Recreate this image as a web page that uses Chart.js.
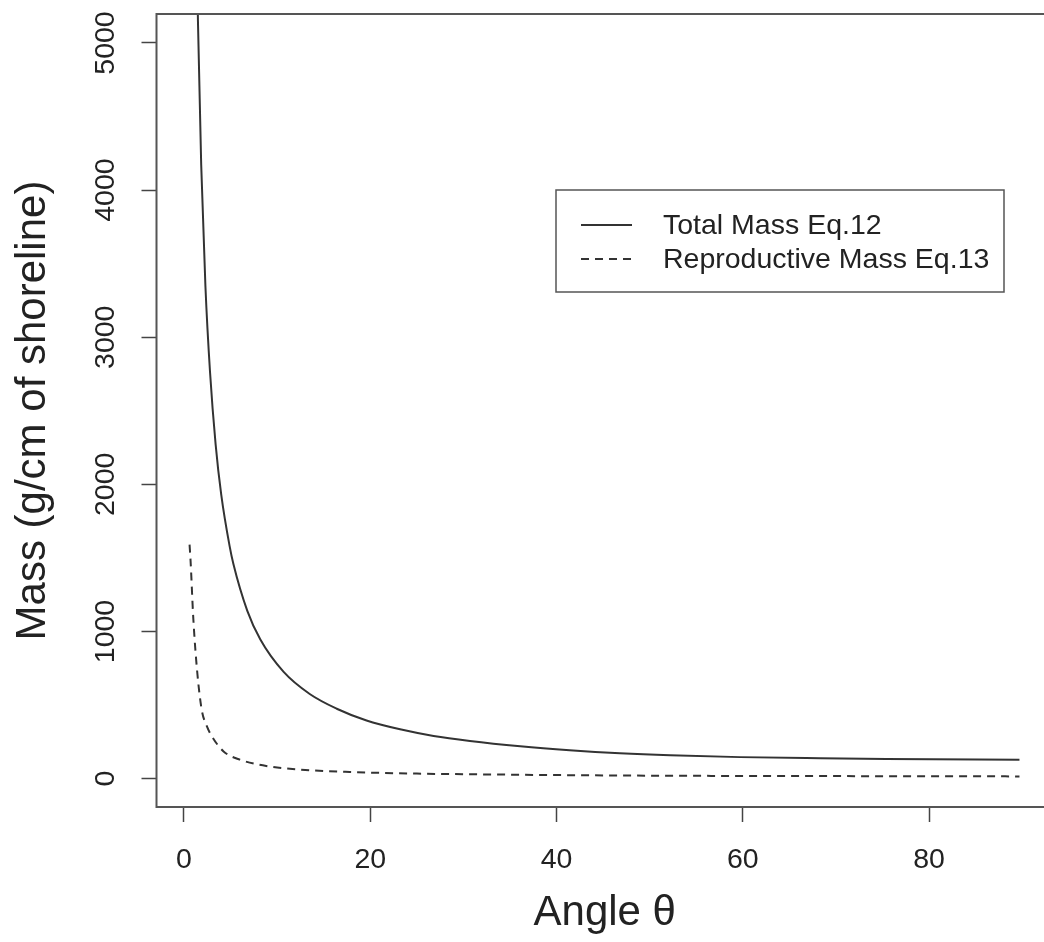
<!DOCTYPE html>
<html>
<head>
<meta charset="utf-8">
<script src="https://cdn.jsdelivr.net/npm/chart.js@4/dist/chart.umd.min.js"></script>
<style>
  html, body { margin: 0; padding: 0; background: #fff; overflow: hidden; }
  #wrap { position: absolute; left: 0; top: 0; }
</style>
</head>
<body>
<div id="wrap"><canvas id="massChart" width="1060" height="942"></canvas></div>
<script>
// angle (degrees) and mass (g/cm of shoreline) for each curve
let totalAngle = [1.2, 1.5, 1.85, 2.3, 2.8, 3.4, 4.0, 4.9, 5.3, 6.8, 8.2, 10.7, 13.5, 16.4, 19.6, 23.2, 26.8, 30.7, 36.1, 41.4, 46.8, 52.2, 59.7, 68.3, 75.4, 89.7]
let totalMass = [6400, 5150, 4170, 3350, 2760, 2270, 1930, 1580, 1460, 1140, 945, 725, 575, 475, 395, 335, 290, 256, 220, 193, 172, 158, 146, 138, 133, 129]

let reproAngle = [0.6, 0.7, 1.0, 1.4, 1.9, 2.5, 3.0, 4.25, 6.0, 9.0, 12.5, 17.8, 25, 30, 40, 50, 60, 70, 80, 89.7]
let reproMass = [1590, 1490, 1090, 740, 470, 350, 287, 185, 129, 84, 61, 45, 34, 30, 24, 20, 18, 17, 16, 15]

let xTicks = [0, 20, 40, 60, 80]
let yTicks = [0, 1000, 2000, 3000, 4000, 5000]

let seriesNames = ['Total Mass Eq.12', 'Reproductive Mass Eq.13']

const FONT = "'Liberation Sans', Arial, Helvetica, sans-serif"
const INK = '#222'

function toPoints(xs, ys) {
  return xs.map((x, i) => ({ x: x, y: ys[i] }))
}

// fixed axis sizes, no extra room for overhanging labels
function fixWidth(w) {
  return (scale) => {
    scale.width = w
    scale.paddingTop = 0
    scale.paddingBottom = 0
  }
}
function fixHeight(h) {
  return (scale) => {
    scale.height = h
    scale.paddingLeft = 0
    scale.paddingRight = 0
  }
}

// R-style box around the plot region
const plotBox = {
  id: 'plotBox',
  afterDatasetsDraw(chart) {
    const a = chart.chartArea
    const ctx = chart.ctx
    ctx.save()
    ctx.strokeStyle = '#555'
    ctx.lineWidth = 2
    ctx.strokeRect(a.left, a.top, a.right - a.left, a.bottom - a.top)
    ctx.restore()
  }
}

// boxed legend drawn inside the plot
const boxLegend = {
  id: 'boxLegend',
  afterDraw(chart, args, opts) {
    const ctx = chart.ctx
    ctx.save()
    ctx.strokeStyle = '#555'
    ctx.lineWidth = 1.5
    ctx.strokeRect(opts.x, opts.y, opts.w, opts.h)
    ctx.font = opts.fontSize + 'px ' + FONT
    ctx.textBaseline = 'middle'
    ctx.textAlign = 'left'
    chart.data.datasets.forEach((ds, i) => {
      const rowY = opts.firstRow + i * opts.rowGap
      ctx.beginPath()
      ctx.strokeStyle = ds.borderColor
      ctx.lineWidth = ds.borderWidth
      ctx.setLineDash(ds.borderDash || [])
      ctx.moveTo(opts.x + 25, rowY)
      ctx.lineTo(opts.x + 76, rowY)
      ctx.stroke()
      ctx.setLineDash([])
      ctx.fillStyle = INK
      ctx.fillText(ds.label, opts.x + 107, rowY + 1)
    })
    ctx.restore()
  }
}

let ctx = document.getElementById('massChart').getContext('2d')

let massChart = new Chart(ctx, {
  type: 'line',
  data: {
    datasets: [{
      label: seriesNames[0],
      data: toPoints(totalAngle, totalMass),
      borderColor: '#333',
      borderWidth: 2,
      pointRadius: 0,
      cubicInterpolationMode: 'monotone',
      fill: false
    }, {
      label: seriesNames[1],
      data: toPoints(reproAngle, reproMass),
      borderColor: '#333',
      borderWidth: 2,
      borderDash: [8, 6],
      pointRadius: 0,
      cubicInterpolationMode: 'monotone',
      fill: false
    }]
  },
  options: {
    responsive: false,
    animation: false,
    devicePixelRatio: 1,
    layout: { padding: { top: 14, right: 7, left: 0, bottom: 0 } },
    plugins: {
      legend: { display: false },
      tooltip: { enabled: false },
      boxLegend: { x: 556, y: 190, w: 448, h: 102, firstRow: 225, rowGap: 34, fontSize: 28.5 }
    },
    scales: {
      x: {
        type: 'linear',
        min: -2.95,
        max: 93.3,
        afterBuildTicks: (scale) => { scale.ticks = xTicks.map(v => ({ value: v })) },
        afterFit: fixHeight(135),
        grid: { drawOnChartArea: false, drawTicks: true, tickLength: 15, tickColor: '#444', tickWidth: 1.5 },
        border: { display: false },
        ticks: { color: INK, font: { family: FONT, size: 28.5 }, padding: 21, maxRotation: 0, callback: (v) => String(v) },
        title: {
          display: true,
          text: 'Angle θ',
          color: INK,
          font: { family: FONT, size: 42 },
          padding: { top: 0, bottom: 3 }
        }
      },
      y: {
        type: 'linear',
        min: -193,
        max: 5197,
        afterBuildTicks: (scale) => { scale.ticks = yTicks.map(v => ({ value: v })) },
        afterFit: fixWidth(156.5),
        grid: { drawOnChartArea: false, drawTicks: true, tickLength: 15, tickColor: '#444', tickWidth: 1.5 },
        border: { display: false },
        ticks: { color: INK, font: { family: FONT, size: 28.5 }, padding: 3.8, minRotation: 90, maxRotation: 90, crossAlign: 'center', callback: (v) => String(v) },
        title: {
          display: true,
          text: 'Mass (g/cm of shoreline)',
          color: INK,
          font: { family: FONT, size: 42 },
          padding: { top: 8.5, bottom: 0 }
        }
      }
    }
  },
  plugins: [plotBox, boxLegend]
})
</script>
</body>
</html>
